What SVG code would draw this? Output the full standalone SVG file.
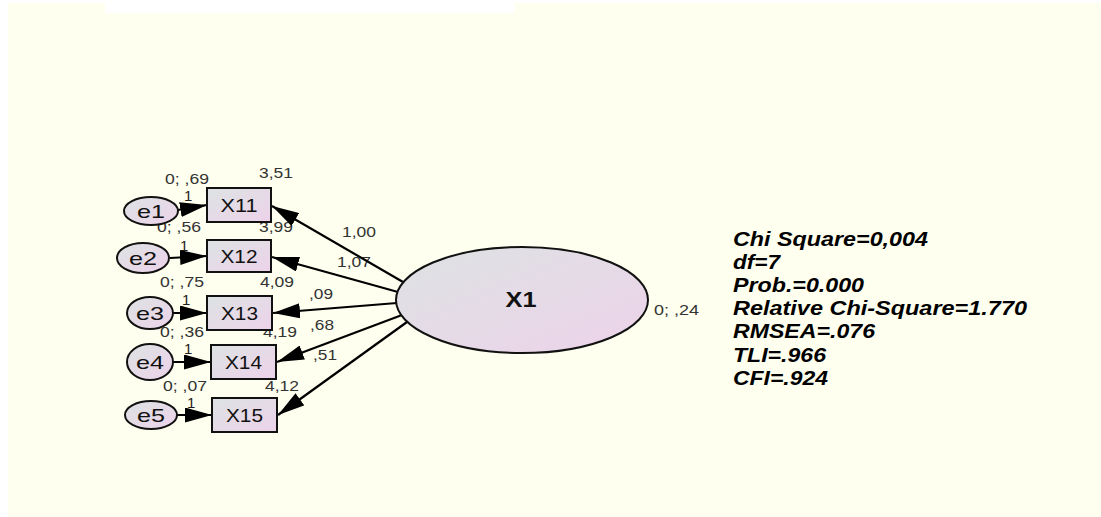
<svg xmlns="http://www.w3.org/2000/svg" width="1101" height="517" viewBox="0 0 1101 517">
<defs>
<linearGradient id="gf" x1="0" y1="0" x2="1" y2="1">
<stop offset="0" stop-color="#DDE3E3"/>
<stop offset="1" stop-color="#EDD2EA"/>
</linearGradient>
<marker id="ah" markerUnits="userSpaceOnUse" markerWidth="28" markerHeight="15" refX="27" refY="7.5" orient="auto" viewBox="0 0 28 15">
<path d="M0,0 L27,7.5 L0,15 z" fill="#000"/>
</marker>
<style>
.n{fill:url(#gf);stroke:#111;stroke-width:2}
.bl{font-family:"Liberation Sans",Arial,sans-serif;font-size:18px;fill:#111}
.el{font-family:"Liberation Sans",Arial,sans-serif;font-size:19px;fill:#111}
.p{font-family:"Liberation Sans",Arial,sans-serif;font-size:14px;fill:#333}
.o{font-family:"Liberation Sans",Arial,sans-serif;font-size:15px;fill:#222}
.c{stroke:#000;stroke-width:2.2;fill:none;marker-end:url(#ah)}
.s{font-family:"Liberation Sans",Arial,sans-serif;font-size:20px;font-weight:bold;font-style:italic;fill:#000}
</style>
</defs>
<rect width="1101" height="517" fill="#fff"/>
<polygon points="8,3 105,3 105,13 515,13 515,3 1101,3 1101,517 8,517" fill="#FEFFEE"/>

<g id="params">
<text class="p" x="165" y="184" textLength="44" lengthAdjust="spacingAndGlyphs">0; ,69</text>
<text class="o" x="184" y="201">1</text>
<text class="p" x="259" y="178" textLength="34" lengthAdjust="spacingAndGlyphs">3,51</text>
<text class="p" x="157" y="232" textLength="44" lengthAdjust="spacingAndGlyphs">0; ,56</text>
<text class="p" x="259" y="232" textLength="34" lengthAdjust="spacingAndGlyphs">3,99</text>
<text class="o" x="180" y="251">1</text>
<text class="p" x="160" y="287" textLength="44" lengthAdjust="spacingAndGlyphs">0; ,75</text>
<text class="p" x="260" y="287" textLength="34" lengthAdjust="spacingAndGlyphs">4,09</text>
<text class="o" x="182" y="305">1</text>
<text class="p" x="160" y="337" textLength="44" lengthAdjust="spacingAndGlyphs">0; ,36</text>
<text class="p" x="263" y="337" textLength="34" lengthAdjust="spacingAndGlyphs">4,19</text>
<text class="o" x="184" y="354">1</text>
<text class="p" x="163" y="391" textLength="44" lengthAdjust="spacingAndGlyphs">0; ,07</text>
<text class="p" x="265" y="391" textLength="34" lengthAdjust="spacingAndGlyphs">4,12</text>
<text class="o" x="187" y="408">1</text>
<text class="p" x="342" y="237" textLength="34" lengthAdjust="spacingAndGlyphs">1,00</text>
<text class="p" x="337" y="267" textLength="34" lengthAdjust="spacingAndGlyphs">1,07</text>
<text class="p" x="309" y="299" textLength="24" lengthAdjust="spacingAndGlyphs">,09</text>
<text class="p" x="310" y="330" textLength="24" lengthAdjust="spacingAndGlyphs">,68</text>
<text class="p" x="313" y="360" textLength="24" lengthAdjust="spacingAndGlyphs">,51</text>
<text class="p" x="654" y="315" textLength="45" lengthAdjust="spacingAndGlyphs">0; ,24</text>
</g>

<g id="connectors">
<line class="c" x1="178" y1="210" x2="207" y2="205"/>
<line class="c" x1="170" y1="258" x2="207" y2="256"/>
<line class="c" x1="173" y1="313" x2="207" y2="313"/>
<line class="c" x1="173" y1="362" x2="211" y2="362"/>
<line class="c" x1="177" y1="415" x2="212" y2="415"/>
<line class="c" x1="403" y1="282" x2="272" y2="206"/>
<line class="c" x1="398" y1="292" x2="272" y2="257"/>
<line class="c" x1="397" y1="303" x2="273" y2="313"/>
<line class="c" x1="402" y1="315" x2="277" y2="362"/>
<line class="c" x1="407" y1="322" x2="278" y2="415"/>
</g>

<g id="X1">
<ellipse class="n" cx="522" cy="300" rx="126" ry="53"/>
<text x="521" y="307" text-anchor="middle" font-family="Liberation Sans,Arial,sans-serif" font-size="22" font-weight="bold" fill="#111" textLength="31" lengthAdjust="spacingAndGlyphs">X1</text>
</g>
<g id="X11"><rect class="n" x="207" y="188" width="64" height="34"/><text class="bl" x="239" y="212" text-anchor="middle" textLength="37" lengthAdjust="spacingAndGlyphs">X11</text></g>
<g id="X12"><rect class="n" x="207" y="240" width="64" height="32"/><text class="bl" x="239" y="263" text-anchor="middle" textLength="37" lengthAdjust="spacingAndGlyphs">X12</text></g>
<g id="X13"><rect class="n" x="207" y="296" width="65" height="34"/><text class="bl" x="239.5" y="320" text-anchor="middle" textLength="37" lengthAdjust="spacingAndGlyphs">X13</text></g>
<g id="X14"><rect class="n" x="211" y="345" width="65" height="34"/><text class="bl" x="243.5" y="369" text-anchor="middle" textLength="37" lengthAdjust="spacingAndGlyphs">X14</text></g>
<g id="X15"><rect class="n" x="212" y="398" width="65" height="34"/><text class="bl" x="244.5" y="422" text-anchor="middle" textLength="37" lengthAdjust="spacingAndGlyphs">X15</text></g>

<g id="e1"><ellipse class="n" cx="151" cy="211" rx="27" ry="14"/><text class="el" x="151" y="218" text-anchor="middle" textLength="28" lengthAdjust="spacingAndGlyphs">e1</text></g>
<g id="e2"><ellipse class="n" cx="143" cy="258" rx="26" ry="15"/><text class="el" x="143" y="265" text-anchor="middle" textLength="28" lengthAdjust="spacingAndGlyphs">e2</text></g>
<g id="e3"><ellipse class="n" cx="150" cy="313" rx="23" ry="16"/><text class="el" x="150" y="320" text-anchor="middle" textLength="28" lengthAdjust="spacingAndGlyphs">e3</text></g>
<g id="e4"><ellipse class="n" cx="150" cy="362" rx="23" ry="18"/><text class="el" x="150" y="369" text-anchor="middle" textLength="28" lengthAdjust="spacingAndGlyphs">e4</text></g>
<g id="e5"><ellipse class="n" cx="151" cy="415" rx="26" ry="14"/><text class="el" x="151" y="422" text-anchor="middle" textLength="28" lengthAdjust="spacingAndGlyphs">e5</text></g>

<g id="fit">
<text class="s" x="733" y="246" textLength="195" lengthAdjust="spacingAndGlyphs">Chi Square=0,004</text>
<text class="s" x="733" y="269" textLength="47" lengthAdjust="spacingAndGlyphs">df=7</text>
<text class="s" x="733" y="292" textLength="131" lengthAdjust="spacingAndGlyphs">Prob.=0.000</text>
<text class="s" x="733" y="315" textLength="294" lengthAdjust="spacingAndGlyphs">Relative Chi-Square=1.770</text>
<text class="s" x="733" y="338" textLength="142" lengthAdjust="spacingAndGlyphs">RMSEA=.076</text>
<text class="s" x="733" y="362" textLength="93" lengthAdjust="spacingAndGlyphs">TLI=.966</text>
<text class="s" x="733" y="385" textLength="95" lengthAdjust="spacingAndGlyphs">CFI=.924</text>
</g>
</svg>
